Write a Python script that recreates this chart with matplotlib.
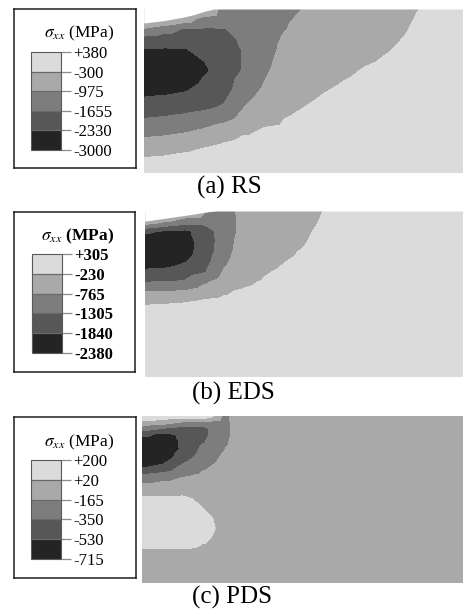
import numpy as np
import matplotlib
matplotlib.use("Agg")
import matplotlib.pyplot as plt
import matplotlib.tri as mtri

plt.rcParams["font.family"] = ["Liberation Serif", "DejaVu Serif"]
plt.rcParams["mathtext.fontset"] = "stix"

# grey scale of the five stress bands, most compressive first
band_colors = ["#242424", "#575757", "#7d7d7d", "#a9a9a9", "#dbdbdb"]

# ---------------- (a) RS ----------------
rs_levels = [-3000, -2330, -1655, -975, -300, 380]
rs_x = [0, 0.5, 1.0, 1.5, 2.0, 2.5, 3.0, 3.5, 4.0, 4.5, 5.0, 5.5, 6.0, 6.5, 7.0, 7.5, 8.0]
rs_depth = [0, 0.25, 0.5, 0.75, 1.0, 1.5, 2.0, 2.5, 3.0, 3.5, 4.1]
rs_stress = [
    [380, 380, 380, -95, -1345, -1310, -1210, -1085, -970, -850, -735, -620, -510, -395, -270, -160, -60],
    [40, -160, -580, -1255, -1515, -1380, -1240, -1040, -905, -785, -675, -565, -465, -365, -235, -125, -25],
    [-1065, -1390, -1715, -1735, -1680, -1480, -1255, -1000, -835, -720, -615, -510, -425, -330, -200, -95, 10],
    [-1905, -1985, -2045, -1965, -1815, -1565, -1240, -925, -770, -655, -555, -460, -375, -290, -170, -60, 40],
    [-2360, -2370, -2360, -2190, -1950, -1605, -1210, -850, -700, -585, -490, -405, -330, -255, -135, -25, 75],
    [-2850, -2830, -2800, -2425, -2055, -1615, -1105, -730, -565, -460, -370, -290, -240, -190, -65, 40, 145],
    [-2560, -2525, -2420, -2160, -1920, -1310, -910, -535, -430, -330, -250, -190, -145, -120, 0, 110, 210],
    [-1995, -1925, -1830, -1715, -1555, -950, -595, -375, -290, -195, -125, -80, -60, -55, 70, 175, 280],
    [-1265, -1210, -1120, -960, -730, -445, -275, -230, -155, -65, -5, 30, 35, 15, 135, 245, 345],
    [-580, -535, -430, -270, -115, 30, 35, -65, -20, 70, 115, 135, 125, 85, 205, 310, 380],
    [195, 255, 380, 380, 380, 380, 380, 115, 145, 225, 265, 265, 230, 165, 285, 380, 380],
]
rs_surface_x = [0, 0.5, 1.0, 1.25, 1.5, 1.75, 8.0]
rs_surface_depth = [0.35, 0.29, 0.2, 0.14, 0.06, 0.0, 0.0]

# ---------------- (b) EDS ----------------
eds_levels = [-2380, -1840, -1305, -765, -230, 305]
eds_x = [0, 0.5, 1.0, 1.5, 2.0, 2.25, 2.5, 3.0, 3.5, 4.0, 4.5, 5.0, 6.0, 8.0]
eds_depth = [0, 0.2, 0.35, 0.5, 0.75, 1.0, 1.25, 1.5, 1.75, 2.0, 2.25, 2.5, 3.0, 4.1]
eds_stress = [
    [305, 305, 90, -715, -985, -770, -705, -580, -475, -365, -220, -180, -100, -15],
    [10, -465, -900, -1040, -1040, -780, -705, -555, -445, -340, -195, -155, -75, 0],
    [-875, -1195, -1380, -1315, -1065, -785, -700, -525, -425, -315, -175, -135, -60, 10],
    [-1760, -1895, -1975, -1550, -1065, -785, -695, -500, -395, -285, -150, -120, -45, 25],
    [-2085, -2140, -2085, -1575, -1065, -760, -660, -435, -340, -250, -120, -85, -15, 40],
    [-2300, -2245, -2060, -1575, -1010, -705, -610, -375, -285, -205, -85, -60, 10, 65],
    [-2085, -2085, -1870, -1495, -875, -610, -525, -315, -235, -170, -55, -30, 35, 85],
    [-1760, -1710, -1575, -1350, -690, -490, -420, -255, -190, -125, -15, 0, 65, 105],
    [-1315, -1310, -1250, -860, -500, -350, -285, -200, -140, -85, 15, 30, 90, 120],
    [-755, -735, -690, -485, -295, -210, -190, -145, -90, -45, 45, 60, 115, 145],
    [-340, -315, -260, -135, -95, -105, -125, -90, -50, -5, 80, 90, 145, 165],
    [-30, 45, 120, 215, 105, 10, -60, -40, 0, 35, 115, 115, 170, 185],
    [305, 305, 305, 305, 305, 225, 70, 70, 90, 115, 180, 175, 225, 225],
    [305, 305, 305, 305, 305, 305, 305, 305, 305, 305, 305, 305, 305, 305],
]
eds_surface_x = [0, 0.7, 1.2, 1.55, 1.8, 8.0]
eds_surface_depth = [0.25, 0.15, 0.08, 0.02, 0.0, 0.0]

# ---------------- (c) PDS ----------------
pds_levels = [-715, -530, -350, -165, 20, 200]
pds_x = [0, 0.5, 1.0, 1.25, 1.5, 1.75, 2.0, 2.25, 2.5, 3.0, 4.0, 6.0, 8.0]
pds_depth = [0, 0.15, 0.3, 0.45, 0.6, 0.8, 1.0, 1.25, 1.5, 1.75, 2.0, 2.25, 2.5, 2.75, 3.0, 3.5, 4.1]
pds_stress = [
    [182, 163, 173, 163, 145, 54, -193, -153, -111, -93, -75, -75, -75],
    [-25, -65, -175, -184, -193, -221, -230, -151, -111, -93, -75, -75, -75],
    [-243, -345, -431, -422, -422, -294, -248, -148, -107, -93, -75, -75, -75],
    [-483, -578, -505, -468, -422, -303, -239, -144, -104, -89, -75, -75, -75],
    [-614, -614, -514, -477, -386, -285, -221, -137, -100, -89, -75, -75, -75],
    [-688, -669, -510, -441, -303, -248, -181, -126, -96, -85, -75, -75, -75],
    [-678, -651, -450, -367, -257, -212, -148, -111, -93, -84, -75, -75, -75],
    [-550, -495, -312, -248, -193, -157, -111, -96, -89, -82, -75, -75, -75],
    [-289, -239, -170, -148, -129, -111, -84, -84, -84, -80, -75, -75, -75],
    [-85, -78, -65, -65, -84, -84, -65, -75, -80, -78, -75, -75, -75],
    [35, 35, 35, 12, -29, -56, -56, -71, -78, -78, -75, -75, -75],
    [90, 90, 81, 63, 21, -29, -52, -65, -75, -75, -75, -75, -75],
    [118, 118, 118, 109, 81, 21, -38, -60, -75, -75, -75, -75, -75],
    [109, 109, 109, 99, 72, 35, -20, -56, -75, -75, -75, -75, -75],
    [81, 81, 81, 72, 45, 13, -34, -60, -75, -75, -75, -75, -75],
    [-38, -38, -38, -38, -47, -52, -56, -65, -75, -75, -75, -75, -75],
    [-56, -56, -56, -56, -56, -60, -65, -71, -75, -75, -75, -75, -75],
]

captions = ["(a) RS", "(b) EDS", "(c) PDS"]

W, H = 464, 614
fig = plt.figure(figsize=(W / 100, H / 100), dpi=100)


def box(x0, y0, x1, y1):
    """Pixel rectangle (top-left origin) -> figure fraction [l, b, w, h]."""
    return [x0 / W, 1 - y1 / H, (x1 - x0) / W, (y1 - y0) / H]


def grid_triangulation(x, d):
    X, D = np.meshgrid(x, d)
    nx, nd = len(x), len(d)
    triangles = []
    for j in range(nd - 1):
        for i in range(nx - 1):
            a = j * nx + i
            triangles.append([a, a + 1, a + nx + 1])
            triangles.append([a, a + nx + 1, a + nx])
    return mtri.Triangulation(X.ravel(), D.ravel(), np.array(triangles))


def stress_panel(rect, x, d, stress, levels, surf_x=None, surf_d=None):
    ax = fig.add_axes(box(*rect))
    tri = grid_triangulation(x, d)
    # keep nodal values strictly inside the legend range so every cell is filled
    eps = 1e-3 * (levels[-1] - levels[0])
    z = np.clip(np.asarray(stress, float).ravel(), levels[0] + eps, levels[-1] - eps)
    cs = ax.tricontourf(tri, z, levels=levels, colors=band_colors)
    if surf_x is not None:
        # material removed above the deformed top surface
        ax.fill_between(surf_x, -0.2, surf_d, color="white", lw=0, zorder=3)
    ax.set_xlim(x[0], x[-1])
    ax.set_ylim(d[-1], d[0])
    ax.axis("off")
    return cs


def legend(rect_box, rect_bar, title_xy, cs, levels, bold=False):
    weight = "bold" if bold else "normal"
    bx = fig.add_axes(box(*rect_box))
    bx.set_xticks([])
    bx.set_yticks([])
    for sp in bx.spines.values():
        sp.set_linewidth(1.1)
        sp.set_color("#1e1e1e")
    cax = fig.add_axes(box(*rect_bar))
    cb = fig.colorbar(cs, cax=cax, drawedges=True)
    cb.set_ticks(levels)
    cb.set_ticklabels([f"{v:+d}" for v in levels], fontweight=weight)
    cb.ax.tick_params(direction="out", length=7.5, width=0.9, color="#8a8a8a",
                      pad=1.5, labelsize=12)
    cb.outline.set_edgecolor("#5a5a5a")
    cb.outline.set_linewidth(0.8)
    cb.dividers.set_color("#6a6a6a")
    cb.dividers.set_linewidth(0.9)
    fig.text(title_xy[0] / W, 1 - title_xy[1] / H, r"$\sigma_{xx}$ (MPa)",
             ha="center", va="baseline", fontsize=12.5, fontweight=weight)


cs_a = stress_panel((144, 9, 464, 173), rs_x, rs_depth, rs_stress, rs_levels,
                    rs_surface_x, rs_surface_depth)
legend((14, 9, 136.5, 168), (31, 52, 61, 150), (79, 37), cs_a, rs_levels)

cs_b = stress_panel((145, 211, 464, 377), eds_x, eds_depth, eds_stress, eds_levels,
                    eds_surface_x, eds_surface_depth)
legend((14, 212, 135, 372), (32, 254, 62, 353), (78, 240), cs_b, eds_levels, bold=True)

cs_c = stress_panel((142, 416, 464, 583), pds_x, pds_depth, pds_stress, pds_levels)
legend((14, 416.5, 136, 577.5), (31, 460, 61, 559), (79.5, 446), cs_c, pds_levels)

for text, (cx, cy) in zip(captions, [(229, 187), (233, 393), (232.5, 597)]):
    fig.text(cx / W, 1 - cy / H, text, ha="center", va="center", fontsize=18)

fig.savefig("out.png", dpi=100)
